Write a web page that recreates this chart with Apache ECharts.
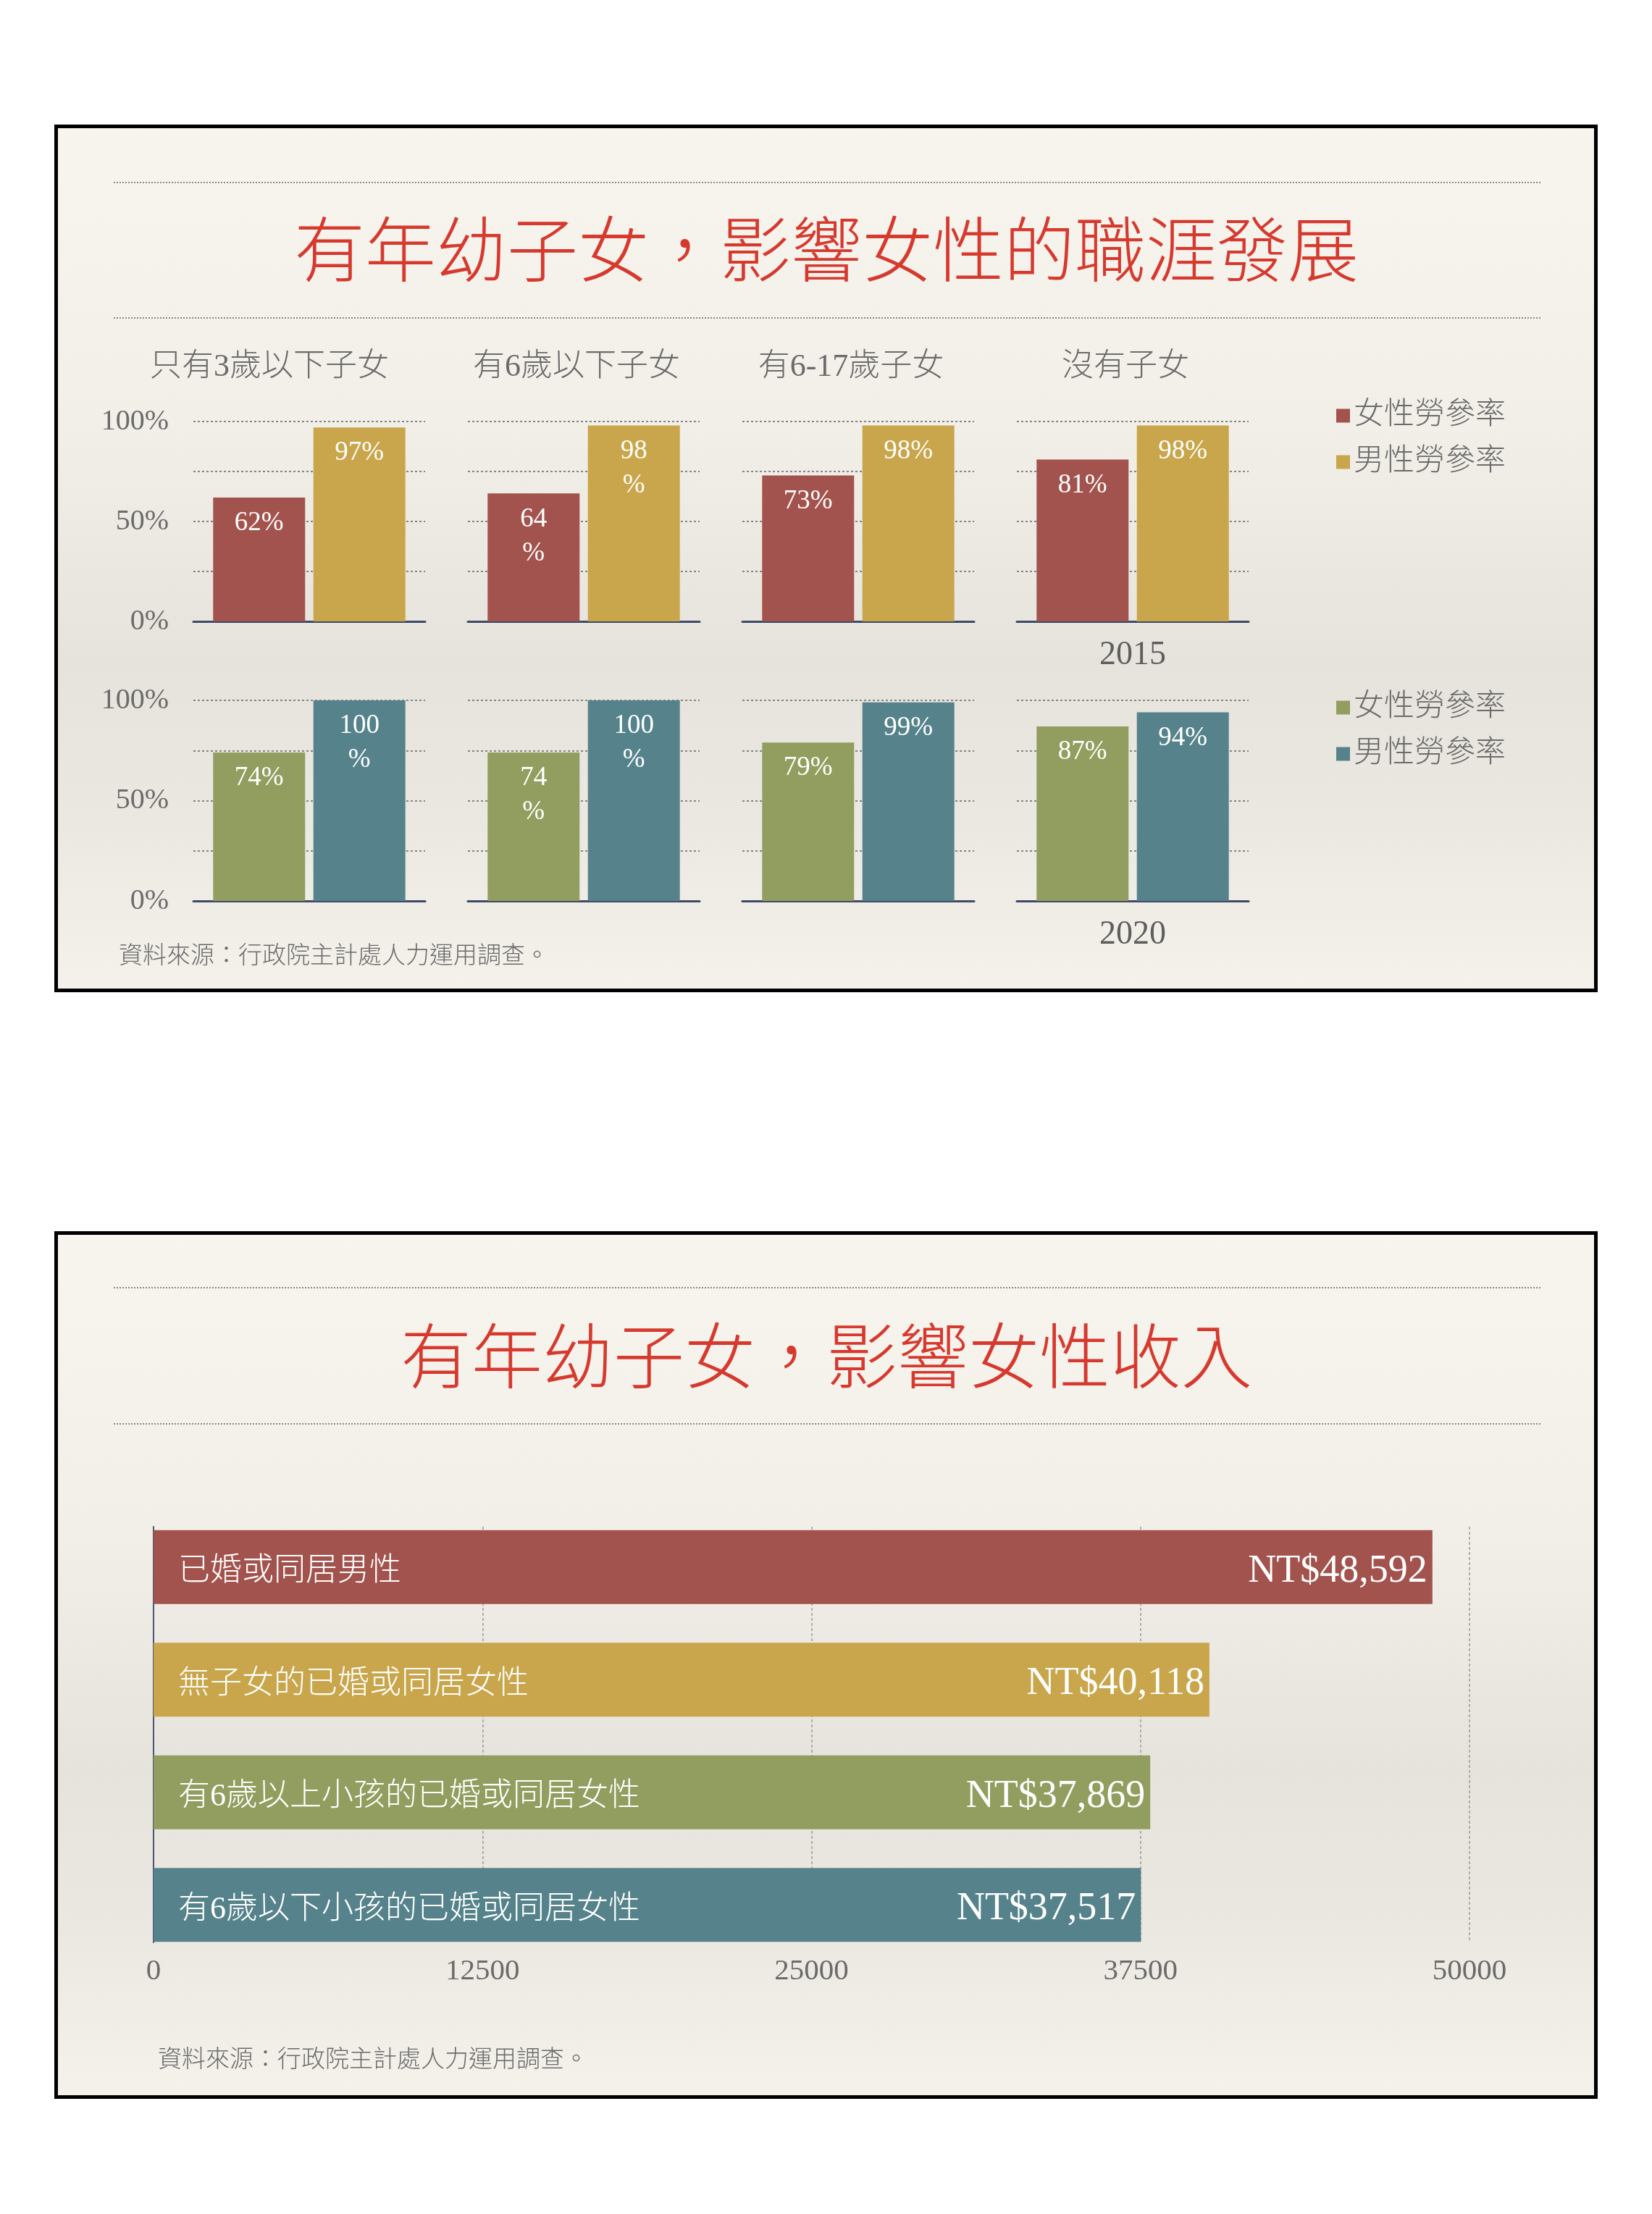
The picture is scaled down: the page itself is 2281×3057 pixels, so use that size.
<!DOCTYPE html>
<html>
<head>
<meta charset="utf-8">
<script src="https://cdn.jsdelivr.net/npm/echarts@6/dist/echarts.min.js"></script>
<style>
html,body{margin:0;padding:0;background:#fff;}
#c{width:2281px;height:3057px;}
</style>
</head>
<body>
<div id="c"></div>
<script>
// ---------- data ----------
const groups = ['只有3歲以下子女', '有6歲以下子女', '有6-17歲子女', '沒有子女'];
const years = ['2015', '2020'];
const seriesNames = ['女性勞參率', '男性勞參率'];
const female2015 = [62, 64, 73, 81];
const male2015 = [97, 98, 98, 98];
const female2020 = [74, 74, 79, 87];
const male2020 = [100, 100, 99, 94];
const incomeCats = ['已婚或同居男性', '無子女的已婚或同居女性', '有6歲以上小孩的已婚或同居女性', '有6歲以下小孩的已婚或同居女性'];
const incomeValues = [48592, 40118, 37869, 37517];
const incomeTicks = [0, 12500, 25000, 37500, 50000];
const title1 = '有年幼子女，影響女性的職涯發展';
const title2 = '有年幼子女，影響女性收入';
const sourceText = '資料來源：行政院主計處人力運用調查。';

// ---------- styles ----------
const FONT = '"Liberation Serif", "Noto Sans CJK TC", serif';
const GRAY = '#6b6b6b';
const rowColors = [['#a3534d', '#c9a64b'], ['#929e5f', '#56838b']];
const incomeColors = ['#a3534d', '#c9a64b', '#929e5f', '#56838b'];

const rows = [
  { top: 582, height: 276, data: [female2015, male2015], legendTop: 552 },
  { top: 967, height: 277, data: [female2020, male2020], legendTop: 955 }
];

const grids = [], xAxes = [], yAxes = [], series = [];

rows.forEach((row, r) => {
  groups.forEach((g, i) => {
    const gi = grids.length;
    grids.push({ left: 267 + i * 379, top: row.top, width: 320, height: row.height });
    const xi = xAxes.length;
    xAxes.push({
      gridIndex: gi, type: 'category', data: [g],
      axisLine: { show: true, lineStyle: { color: '#3f4a67', width: 3 } },
      axisTick: { show: false }, axisLabel: { show: false },
      name: i === 3 ? years[r] : '', nameLocation: 'middle', nameGap: 24,
      nameTextStyle: { fontFamily: FONT, fontSize: 46, color: '#5e5e5e', verticalAlign: 'top' }
    });
    if (r === 0) {
      xAxes.push({
        gridIndex: gi, type: 'category', position: 'top', data: [g],
        axisLine: { show: false }, axisTick: { show: false },
        axisLabel: { margin: 53, fontSize: 44, color: GRAY, fontFamily: FONT, fontWeight: 300,
          padding: [0, i === 0 ? 110 : 20, 0, 0] }
      });
    }
    const yi = yAxes.length;
    yAxes.push({
      gridIndex: gi, type: 'value', min: 0, max: 100, interval: 25,
      axisLine: { show: false }, axisTick: { show: false },
      splitLine: { show: true, lineStyle: { type: [3, 3], color: '#858585', width: 2 } },
      axisLabel: {
        show: i === 0, margin: 34, fontSize: 40, color: GRAY, fontFamily: FONT,
        formatter: v => (v % 50 === 0 ? v + '%' : '')
      }
    });
    row.data.forEach((vals, s) => {
      series.push({
        type: 'bar', name: seriesNames[s], xAxisIndex: xi, yAxisIndex: yi,
        data: [vals[i]], barWidth: 127, barGap: '9%',
        itemStyle: { color: rowColors[r][s] },
        label: {
          show: true, position: 'insideTop', distance: 12, color: '#fff',
          fontFamily: FONT, fontSize: 37, lineHeight: 47,
          formatter: p => (i === 1 || p.value >= 100) ? p.value + '\n%' : p.value + '%'
        }
      });
    });
  });
});

// bottom income chart: grid A (bars), grid B (gridlines + ticks)
const ga = grids.length;
grids.push({ left: 212, width: 1817, top: 2086, height: 622 });
const xa = xAxes.length;
xAxes.push({ gridIndex: ga, type: 'value', min: 0, max: 50000, interval: 12500, show: false });
const ya = yAxes.length;
yAxes.push({ gridIndex: ga, type: 'category', data: incomeCats, inverse: true, show: false });
const gb = grids.length;
grids.push({ left: 212, width: 1817, top: 2108, height: 574 });
xAxes.push({
  gridIndex: gb, type: 'value', min: incomeTicks[0], max: incomeTicks[incomeTicks.length - 1],
  interval: incomeTicks[1] - incomeTicks[0],
  axisLine: { show: false }, axisTick: { show: false },
  splitLine: { show: true, lineStyle: { type: [4, 3], color: '#9a9a9a', width: 1.5 } },
  axisLabel: { margin: 20, fontSize: 41, color: GRAY, fontFamily: FONT, formatter: v => String(v) }
});
yAxes.push({
  gridIndex: gb, type: 'category', data: incomeCats, inverse: true,
  axisLine: { show: true, lineStyle: { color: '#4a5677', width: 2 } },
  axisTick: { show: false }, axisLabel: { show: false }, splitLine: { show: false }
});
series.push({
  type: 'bar', name: 'income', xAxisIndex: xa, yAxisIndex: ya, barWidth: 102,
  data: incomeValues.map((v, k) => ({ value: v, itemStyle: { color: incomeColors[k] } })),
  label: {
    show: true, position: 'insideRight', distance: 7, color: '#fff', offset: [0, 6],
    fontFamily: FONT, fontSize: 54,
    formatter: p => 'NT$' + p.value.toLocaleString('en-US')
  }
});
series.push({
  type: 'bar', name: 'names', xAxisIndex: xa, yAxisIndex: ya, barWidth: 102, barGap: '-100%',
  data: incomeValues, itemStyle: { color: 'rgba(0,0,0,0)' }, silent: true,
  label: {
    show: true, position: 'insideLeft', distance: 34, color: '#fff', offset: [0, 7],
    fontFamily: FONT, fontSize: 44, fontWeight: 300,
    formatter: p => p.name
  }
});

const legends = rows.map((row, r) => ({
  orient: 'vertical', left: 1845, top: row.legendTop, padding: 0,
  itemWidth: 19, itemHeight: 19, itemGap: 20, icon: 'rect', selectedMode: false,
  textStyle: { fontSize: 42, lineHeight: 44, color: GRAY, fontFamily: FONT, fontWeight: 300 },
  data: seriesNames.map((n, s) => ({ name: n, itemStyle: { color: rowColors[r][s] } }))
}));

function panelRect(y) {
  return {
    type: 'rect', z: -10, silent: true,
    shape: { x: 77.5, y: y + 2.5, width: 2126, height: 1193 },
    style: {
      fill: { type: 'linear', x: 0, y: 0, x2: 0, y2: 1, colorStops: [
        { offset: 0, color: '#f8f5ef' }, { offset: 0.35, color: '#f2efe9' },
        { offset: 0.62, color: '#e6e3dd' }, { offset: 0.8, color: '#ebe8e2' },
        { offset: 1, color: '#f5f2ec' }] },
      stroke: '#000', lineWidth: 5
    }
  };
}
function dotLine(y) {
  return { type: 'line', z: -5, silent: true, shape: { x1: 157, y1: y, x2: 2127, y2: y },
    style: { stroke: '#8a8a8a', lineWidth: 2, lineDash: [2, 2] } };
}
function txt(text, x, y, size, color, align) {
  return { type: 'text', z: 10, silent: true, x: x, y: y,
    style: { text: text, fontSize: size, fontFamily: FONT, fontWeight: 300, fill: color,
      align: align, verticalAlign: 'middle', textAlign: align, textVerticalAlign: 'middle' } };
}

const option = {
  backgroundColor: '#ffffff',
  animation: false,
  grid: grids, xAxis: xAxes, yAxis: yAxes, series: series, legend: legends,
  graphic: [
    panelRect(172), panelRect(1700),
    dotLine(252), dotLine(439), dotLine(1778), dotLine(1966),
    txt(title1, 1141, 355, 98, '#d63a2f', 'center'),
    txt(title2, 1141, 1883, 98, '#d63a2f', 'center'),
    txt(sourceText, 164, 1321, 33, GRAY, 'left'),
    txt(sourceText, 218, 2845, 33, GRAY, 'left')
  ]
};

const chart = echarts.init(document.getElementById('c'), null, { renderer: 'canvas', width: 2281, height: 3057 });
chart.setOption(option);
</script>
</body>
</html>
